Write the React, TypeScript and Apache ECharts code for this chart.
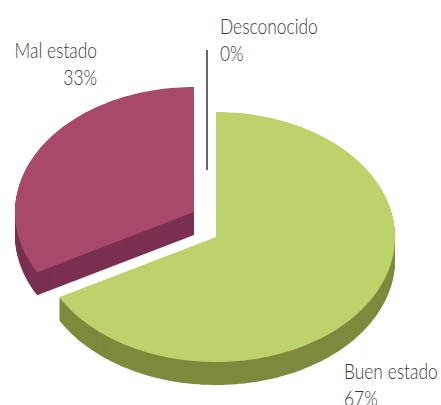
import React, { useEffect, useRef } from "react";
import * as echarts from "echarts";

const categories = ["Buen estado", "Mal estado", "Desconocido"];
const values = [67, 33, 0];

const topColors = ["#BDD26A", "#A8486B", "#777777"];
const sideColors = ["#7D8A3D", "#7A3050", "#555555"];

// layout (pixels)
const RX = 179;
const RY = 125;
const DEPTH = 23;
const centers: [number, number][] = [
  [216, 237],
  [194, 212],
  [207, 224],
];
const labelPos: { x: number; y: number; align: string }[] = [
  { x: 344, y: 357, align: "left" },
  { x: 97, y: 36, align: "right" },
  { x: 220, y: 12, align: "left" },
];
const leader = { x: 207, y1: 50, y2: 170 };
const FONT = "Lato, 'Open Sans', sans-serif";
const TEXT_SCALE_X = 0.79;

const total = values.reduce((a, b) => a + b, 0);

function sectorPoints(cx: number, cy: number, a0: number, a1: number) {
  const pts: number[][] = [[cx, cy]];
  const n = Math.max(2, Math.ceil(Math.abs(a1 - a0) / 1.5));
  for (let k = 0; k <= n; k++) {
    const a = ((a0 + ((a1 - a0) * k) / n) * Math.PI) / 180;
    pts.push([cx + RX * Math.cos(a), cy - RY * Math.sin(a)]);
  }
  return pts;
}

export default function App() {
  const ref = useRef<HTMLDivElement>(null);
  useEffect(() => {
    if (!ref.current) return;
    const chart = echarts.init(ref.current, undefined, { renderer: "svg" });
    const renderItem = (params: any, api: any) => {
      const i = params.dataIndex;
      const v = api.value(0);
      let cum = 0;
      for (let k = 0; k < i; k++) cum += values[k];
      const a0 = 90 - (360 * cum) / total;
      const a1 = a0 - (360 * v) / total;
      const [cx, cy] = centers[i];
      const children: any[] = [];
      if (v > 0) {
        for (let d = DEPTH; d >= 1; d--) {
          children.push({
            type: "polygon",
            shape: { points: sectorPoints(cx, cy + d, a0, a1) },
            style: { fill: sideColors[i] },
          });
        }
        children.push({
          type: "polygon",
          shape: { points: sectorPoints(cx, cy, a0, a1) },
          style: { fill: topColors[i] },
        });
      } else {
        children.push({
          type: "line",
          shape: { x1: leader.x, y1: leader.y1, x2: leader.x, y2: leader.y2 },
          style: { stroke: "#333333", lineWidth: 1.5 },
        });
      }
      const lp = labelPos[i];
      const pct = Math.round((v / total) * 100) + "%";
      children.push({
        type: "text",
        x: lp.x,
        y: lp.y,
        scaleX: TEXT_SCALE_X,
        style: {
          x: 0,
          y: 0,
          text: categories[i] + "\n" + pct,
          fill: "#3a3a3a",
          fontSize: 22,
          fontWeight: 300,
          fontFamily: FONT,
          lineHeight: 27,
          align: lp.align,
          verticalAlign: "top",
        },
      });
      return { type: "group", children };
    };
    chart.setOption({
      animation: false,
      series: [
        {
          type: "custom",
          coordinateSystem: "none",
          renderItem,
          data: values.map((v) => [v]),
          silent: true,
        },
      ],
    });
    return () => chart.dispose();
  }, []);
  return (
    <div
      ref={ref}
      style={{ position: "absolute", left: 0, top: 0, width: 441, height: 405, background: "#fff" }}
    />
  );
}
